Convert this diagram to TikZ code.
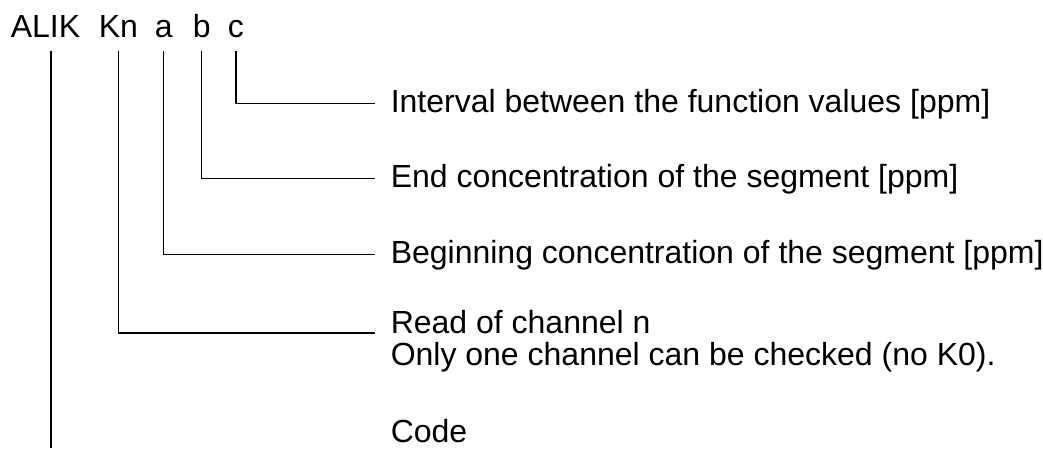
\documentclass[tikz,border=0pt]{standalone}
\usepackage{fontspec}
\setmainfont{Liberation Sans}
\usetikzlibrary{positioning}

\begin{document}
\begin{tikzpicture}[x=1pt,y=-1pt,line width=1.5pt,
  t/.style={inner sep=0pt,anchor=base west,font=\fontsize{32}{38}\selectfont},
  d/.style={inner sep=0pt,anchor=base west,font=\fontsize{32}{38}\selectfont}]
\useasboundingbox (0,0) rectangle (1043,448);
% command line
\node[t] (alik) at (10,37) {ALIK};
\node[t] (kn) at (98,37) {Kn};
\node[t] (a) at (154,37) {a};
\node[t] (b) at (192,37) {b};
\node[t] (c) at (227,37) {c};
% meanings
\node[d] (cd) at (390,112) {Interval between the function values [ppm]};
\node[d] (bd) at (390,187) {End concentration of the segment [ppm]};
\node[d] (ad) at (390,263) {Beginning concentration of the segment [ppm]};
\node[d] (knd) at (390,333) {Read of channel n};
\node[d] (only) at (390,365) {Only one channel can be checked (no K0).};
\node[d] (code) at (390,442) {Code};
\coordinate (bot) at (0,448);
\foreach \u/\v in {c/cd,b/bd,a/ad}
  \draw ([yshift=-13pt]\u.south) |- ([xshift=-15pt]\v.west);
\draw ([yshift=-13pt]kn.south) |- ([xshift=-15pt]knd.base west);
\draw ([xshift=5.5pt,yshift=-13pt]alik.south) -- ([xshift=5.5pt]alik.south |- bot);
\end{tikzpicture}
\end{document}
